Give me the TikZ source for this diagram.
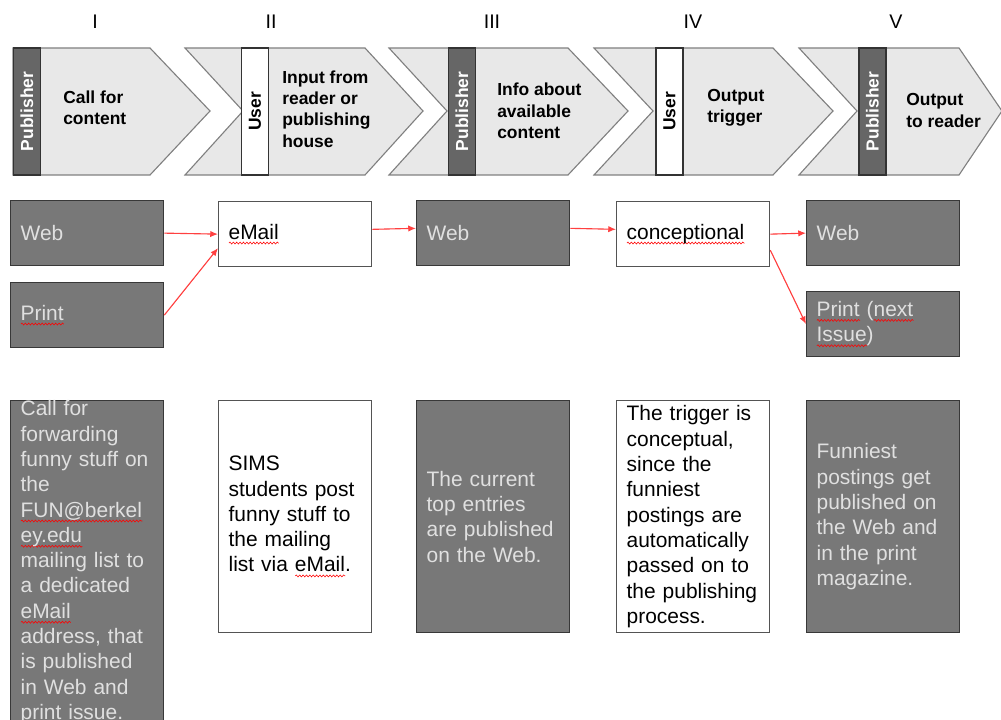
\documentclass[tikz,border=0pt]{standalone}
\usepackage{fontspec}
\setmainfont{Liberation Sans}
\usetikzlibrary{positioning,decorations.pathmorphing,arrows.meta}

\definecolor{chevfill}{gray}{0.91}
\definecolor{chevline}{gray}{0.5}
\definecolor{bandgray}{gray}{0.4}
\definecolor{bandline}{gray}{0.2}
\definecolor{boxgray}{gray}{0.47}
\definecolor{boxline}{gray}{0.22}
\definecolor{boxtext}{gray}{0.88}
\definecolor{lightline}{gray}{0.33}
\definecolor{linkred}{rgb}{1,0.25,0.25}

% red spelling squiggle under a word
\newlength\squigwd
\newcommand\squig[1]{\leavevmode\settowidth\squigwd{#1}%
  \rlap{\tikz[baseline=0pt]\draw[red,line width=0.4pt,decorate,
    decoration={snake,amplitude=0.7pt,segment length=2.4pt}]
    (0pt,-2.8pt) -- (\squigwd,-2.8pt);}#1}

\begin{document}
\begin{tikzpicture}[x=0.025cm,y=-0.025cm,
  chev/.style={fill=chevfill,draw=chevline,line width=0.8pt},
  band/.style={rotate=90,minimum width=3.175cm,minimum height=0.675cm,
    inner sep=0pt,draw=bandline,line width=0.8pt,
    font=\fontsize{12.4}{15}\selectfont\bfseries},
  pubband/.style={band,fill=bandgray,text=white},
  userband/.style={band,fill=white,text=black},
  stagetext/.style={anchor=west,align=left,inner sep=0pt,
    font=\fontsize{12.4}{15.2}\selectfont\bfseries},
  numeral/.style={font=\fontsize{14}{16}\selectfont},
  box/.style={anchor=north west,minimum width=3.825cm,minimum height=1.625cm,
    text width=3.325cm,inner xsep=0.25cm,inner ysep=0pt,align=left,
    line width=0.9pt,font=\fontsize{14.9}{18}\selectfont},
  darkbox/.style={box,fill=boxgray,draw=boxline,text=boxtext},
  lightbox/.style={box,fill=white,draw=lightline},
  desc/.style={minimum height=5.8cm},
  link/.style={-{Latex[length=5.5pt,width=4.5pt]},draw=linkred,fill=linkred,line width=0.8pt}]
\useasboundingbox (0,0) rectangle (1001,720);
\clip (0,0) rectangle (1001,720);

% stage numbers
\foreach \n/\x in {I/95,II/271,III/492,IV/693,V/896}
  \node[numeral] (num\n) at (\x,22) {\n};

% process chevrons
\filldraw[chev] (13,48) -- (150,48) -- (210,111) -- (150,175) -- (13,175) -- cycle;
\filldraw[chev] (185,48) -- (365,48) -- (423,111) -- (365,175) -- (185,175) -- (243,111) -- cycle;
\filldraw[chev] (389,48) -- (568,48) -- (628,111) -- (568,175) -- (389,175) -- (447,111) -- cycle;
\filldraw[chev] (594,48) -- (773,48) -- (833,111) -- (773,175) -- (594,175) -- (653,111) -- cycle;
\filldraw[chev] (799,48) -- (959,48) -- (1002,111) -- (959,175) -- (799,175) -- (857,111) -- cycle;

\node[pubband] (actor1) at (27,111.5) {Publisher};
\node[userband] (actor2) at (255,111.5) {User};
\node[pubband] (actor3) at (462,111.5) {Publisher};
\node[userband] (actor4) at (669.5,111.5) {User};
\node[pubband] (actor5) at (872.5,111.5) {Publisher};

\node[stagetext] (stage1) at (63,108) {Call for\\content};
\node[stagetext] (stage2) at (282,109) {Input from\\reader or\\publishing\\house};
\node[stagetext] (stage3) at (497,111) {Info about\\available\\content};
\node[stagetext] (stage4) at (707,108) {Output\\trigger};
\node[stagetext] (stage5) at (906,110.5) {Output\\to reader};

% channels
\node[darkbox] (web1) at (10,200) {Web};
\node[darkbox] (print1) at (10,282) {\squig{Print}};
\node[lightbox] (email2) at (218,201) {\squig{eMail}};
\node[darkbox] (web3) at (416,200) {Web};
\node[lightbox] (concept4) at (616,201) {\squig{conceptional}};
\node[darkbox] (web5) at (806,200) {Web};
\node[darkbox] (print5) at (806,291) {\squig{Print} (\squig{next}\\\squig{Issue})};

\draw[link] (web1.east) -- (email2.west);
\draw[link] (print1.east) -- ([yshift=-0.35cm]email2.west);
\draw[link] ([yshift=0.12cm]email2.east) -- ([yshift=0.12cm]web3.west);
\draw[link] ([yshift=0.12cm]web3.east) -- ([yshift=0.12cm]concept4.west);
\draw[link] (concept4.east) -- (web5.west);
\draw[link] ([yshift=-0.4cm]concept4.east) -- (print5.west);

% descriptions
\node[darkbox,minimum height=8.05cm] (desc1) at (10,400) {Call for\\forwarding\\funny stuff on\\the\\\squig{FUN@berkel}\\\squig{ey.edu}\\mailing list to\\a dedicated\\\squig{eMail}\\address, that\\is published\\in Web and\\print issue.};
\node[lightbox,desc] (desc2) at (218,400) {SIMS\\students post\\funny stuff to\\the mailing\\list via \squig{eMail}.};
\node[darkbox,desc] (desc3) at (416,400) {The current\\top entries\\are published\\on the Web.};
\node[lightbox,desc] (desc4) at (616,400) {The trigger is\\conceptual,\\since the\\funniest\\postings are\\automatically\\passed on to\\the publishing\\process.};
\node[darkbox,desc] (desc5) at (806,400) {Funniest\\postings get\\published on\\the Web and\\in the print\\magazine.};
\end{tikzpicture}
\end{document}
